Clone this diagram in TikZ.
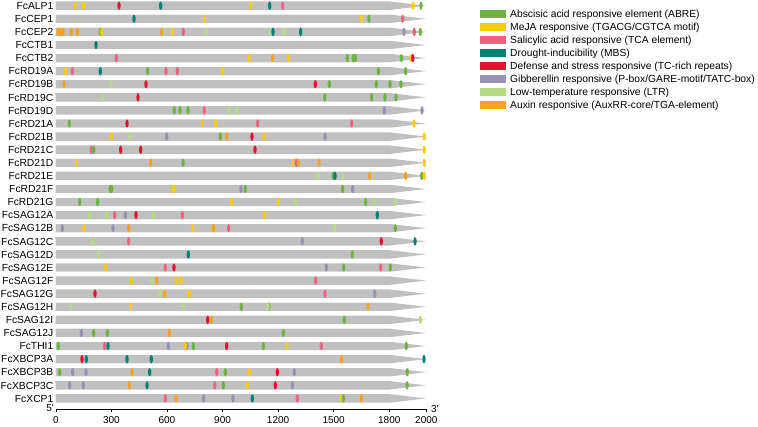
\documentclass[tikz,border=0pt]{standalone}
\usepackage{fontspec}
\setmainfont{Liberation Sans}
\definecolor{cABRE}{RGB}{109,179,63}
\definecolor{cMeJA}{RGB}{255,204,0}
\definecolor{cSA}{RGB}{239,98,128}
\definecolor{cMBS}{RGB}{0,128,116}
\definecolor{cTC}{RGB}{232,17,45}
\definecolor{cGA}{RGB}{150,145,180}
\definecolor{cLTR}{RGB}{180,220,130}
\definecolor{cAux}{RGB}{248,162,30}
\definecolor{bargray}{RGB}{192,192,192}
\tikzset{
  genelabel/.style={anchor=base east,inner sep=0pt,font=\fontsize{10.3}{12}\selectfont},
  legtext/.style={anchor=base west,inner sep=0pt,font=\fontsize{10.3}{12}\selectfont},
  ticklabel/.style={anchor=base,inner sep=0pt,font=\fontsize{10}{12}\selectfont},
  endlabel/.style={inner sep=0pt,font=\fontsize{10}{12}\selectfont},
  genebar/.style={fill=bargray},
  elem/.style={x radius=1.7,y radius=4.2}
}
\newcommand{\generow}[3]{%
  \pgfmathsetmacro\yy{5.7+13.09*#1}
  \node[genelabel] (g#1) at (53.5,\yy+3.7) {#2};
  \fill[genebar] (55.5,\yy-4.2) -- (390,\yy-4.2) -- (426,\yy) -- (390,\yy+4.2) -- (55.5,\yy+4.2) -- cycle;
  \foreach \c/\x in {#3} {\fill[\c] (\x,\yy) ellipse[elem];}
}
\newcommand{\legrow}[3]{%
  \pgfmathsetmacro\ly{14.3+13*#1}
  \fill[#2] (480,\ly-3.9) rectangle (505.7,\ly+3.9);
  \node[legtext] (l#1) at (510,\ly+3.7) {#3};
}
\begin{document}
\begin{tikzpicture}[x=1pt,y=-1pt]
\useasboundingbox (0,0) rectangle (758,427);
\generow{0}{FcALP1}{cMeJA/75,cMeJA/83.7,cTC/119,cMBS/160.7,cMeJA/250.7,cMBS/269.7,cSA/282.7,cMeJA/413,cABRE/421}
\generow{1}{FcCEP1}{cMBS/134,cMeJA/204.3,cMeJA/361.3,cABRE/369,cSA/402.7}
\generow{2}{FcCEP2}{cAux/58,cAux/60.5,cAux/63,cAux/71.3,cAux/77.3,cABRE/100.3,cMeJA/101.8,cAux/161.7,cMeJA/172.3,cSA/183.3,cLTR/206.3,cLTR/271.3,cMBS/273,cLTR/284,cMBS/300.7,cGA/404,cSA/414.3,cABRE/420.3}
\generow{3}{FcCTB1}{cMBS/96}
\generow{4}{FcCTB2}{cSA/116.3,cMeJA/249,cAux/272.7,cMeJA/288.3,cABRE/347.3,cABRE/353.3,cABRE/355.3,cABRE/401.3,cMeJA/411,cTC/412.8}
\generow{5}{FcRD19A}{cMeJA/65.3,cSA/72.3,cMBS/100.3,cABRE/147.7,cSA/166,cSA/177.3,cMeJA/222.3,cABRE/378.3,cABRE/405.7}
\generow{6}{FcRD19B}{cAux/64,cLTR/111,cTC/146,cTC/315.3,cABRE/329.3,cABRE/376.3,cABRE/390,cABRE/401}
\generow{7}{FcRD19C}{cLTR/102.7,cTC/138,cABRE/324.7,cABRE/371.7,cABRE/385,cABRE/396}
\generow{8}{FcRD19D}{cABRE/174.3,cABRE/180,cABRE/188,cSA/204.3,cLTR/229,cLTR/237,cGA/384.3,cGA/422}
\generow{9}{FcRD21A}{cABRE/69.3,cTC/127,cMeJA/202.3,cMeJA/215.7,cSA/257.7,cSA/351.7,cMeJA/414}
\generow{10}{FcRD21B}{cMeJA/111.3,cLTR/130,cGA/166.7,cABRE/220.3,cAux/226.7,cTC/252,cMeJA/264,cGA/325,cMeJA/424.3}
\generow{11}{FcRD21C}{cSA/91.3,cABRE/93.7,cTC/120.7,cTC/140.7,cTC/255,cMeJA/424.3}
\generow{12}{FcRD21D}{cMeJA/76.3,cAux/150.7,cABRE/183,cMeJA/292.7,cSA/296.3,cAux/298.3,cAux/319,cMeJA/424.3}
\generow{13}{FcRD21E}{cLTR/317.3,cABRE/333.3,cMBS/335,cLTR/342.7,cAux/369.7,cAux/405.7,cABRE/421.7,cMeJA/424.3}
\generow{14}{FcRD21F}{cABRE/110.3,cABRE/111.7,cMeJA/173.7,cGA/241,cABRE/245.3,cABRE/342.7,cGA/352.7}
\generow{15}{FcRD21G}{cABRE/79.7,cABRE/97.7,cMeJA/231.7,cMeJA/278.3,cLTR/295.7,cABRE/365.7,cLTR/374.3,cLTR/395}
\generow{16}{FcSAG12A}{cLTR/89.7,cLTR/106.7,cSA/114.7,cGA/125.3,cTC/136,cLTR/153.3,cSA/182.3,cMeJA/264.3,cMBS/377.3}
\generow{17}{FcSAG12B}{cGA/62.3,cMeJA/84,cGA/113,cAux/128.7,cMeJA/192.7,cAux/213.5,cSA/228.7,cLTR/334.3,cABRE/395.3}
\generow{18}{FcSAG12C}{cLTR/93,cSA/128.7,cGA/302.3,cTC/381.3,cMBS/415}
\generow{19}{FcSAG12D}{cLTR/98.7,cMBS/188.3,cABRE/352.3}
\generow{20}{FcSAG12E}{cMeJA/105.7,cSA/165.3,cTC/174,cGA/326.3,cABRE/343.7,cSA/380.7,cABRE/390.3}
\generow{21}{FcSAG12F}{cMeJA/131.3,cLTR/152,cAux/156.7,cMeJA/176,cMeJA/181,cSA/315.7}
\generow{22}{FcSAG12G}{cTC/95,cLTR/159.7,cAux/164.7,cMeJA/189,cSA/325,cGA/374.7}
\generow{23}{FcSAG12H}{cLTR/71,cMeJA/130.7,cLTR/183.3,cABRE/241.3,cABRE/268.8,cLTR/268,cAux/368}
\generow{24}{FcSAG12I}{cTC/207.7,cAux/211.3,cABRE/344.3,cLTR/420.3}
\generow{25}{FcSAG12J}{cGA/81.3,cABRE/93.7,cABRE/107.3,cAux/169.3,cABRE/283.3}
\generow{26}{FcTHI1}{cABRE/58.3,cSA/104.7,cMBS/108,cGA/168.3,cGA/187,cMeJA/185.3,cABRE/193.3,cTC/226.7,cABRE/263.3,cMeJA/287,cSA/321.3,cABRE/406.3}
\generow{27}{FcXBCP3A}{cTC/82,cMBS/86.3,cMBS/127,cMBS/151.3,cAux/341.7,cMBS/424}
\generow{28}{FcXBCP3B}{cABRE/59.7,cGA/72.7,cGA/86,cAux/132,cMBS/149.7,cSA/216.8,cABRE/225.3,cMeJA/249.3,cTC/277.3,cGA/294.3,cABRE/407.3}
\generow{29}{FcXBCP3C}{cGA/69.7,cGA/83.3,cAux/129.3,cMBS/147,cSA/214.8,cABRE/223.3,cMeJA/247.3,cTC/275.3,cGA/292.3,cABRE/407}
\generow{30}{FcXCP1}{cSA/165.3,cAux/176,cGA/203.7,cGA/233,cMBS/252.3,cSA/297.3,cMeJA/341.7,cABRE/343.3,cAux/361.3}
% axis
\coordinate (ax0) at (55.5,409);
\coordinate (ax1) at (426.5,409);
\draw[line width=0.6pt] (ax0) -- (ax1);
\foreach \t in {0,300,600,900,1200,1500,1800,2000} {
  \draw[line width=0.6pt] (55.8+\t*0.18525,409) -- (55.8+\t*0.18525,412);
  \node[ticklabel] (t\t) at (55.8+\t*0.18525,424) {\t};
}
\node[endlabel,anchor=base east] (five) at (54,412) {5\textquotesingle};
\node[endlabel,anchor=base west] (three) at (431,412.5) {3\textquotesingle};
% legend
\legrow{0}{cABRE}{Abscisic acid responsive element (ABRE)}
\legrow{1}{cMeJA}{MeJA responsive (TGACG/CGTCA motif)}
\legrow{2}{cSA}{Salicylic acid responsive (TCA element)}
\legrow{3}{cMBS}{Drought-inducibility (MBS)}
\legrow{4}{cTC}{Defense and stress responsive (TC-rich repeats)}
\legrow{5}{cGA}{Gibberellin responsive (P-box/GARE-motif/TATC-box)}
\legrow{6}{cLTR}{Low-temperature responsive (LTR)}
\legrow{7}{cAux}{Auxin responsive (AuxRR-core/TGA-element)}
\end{tikzpicture}
\end{document}
